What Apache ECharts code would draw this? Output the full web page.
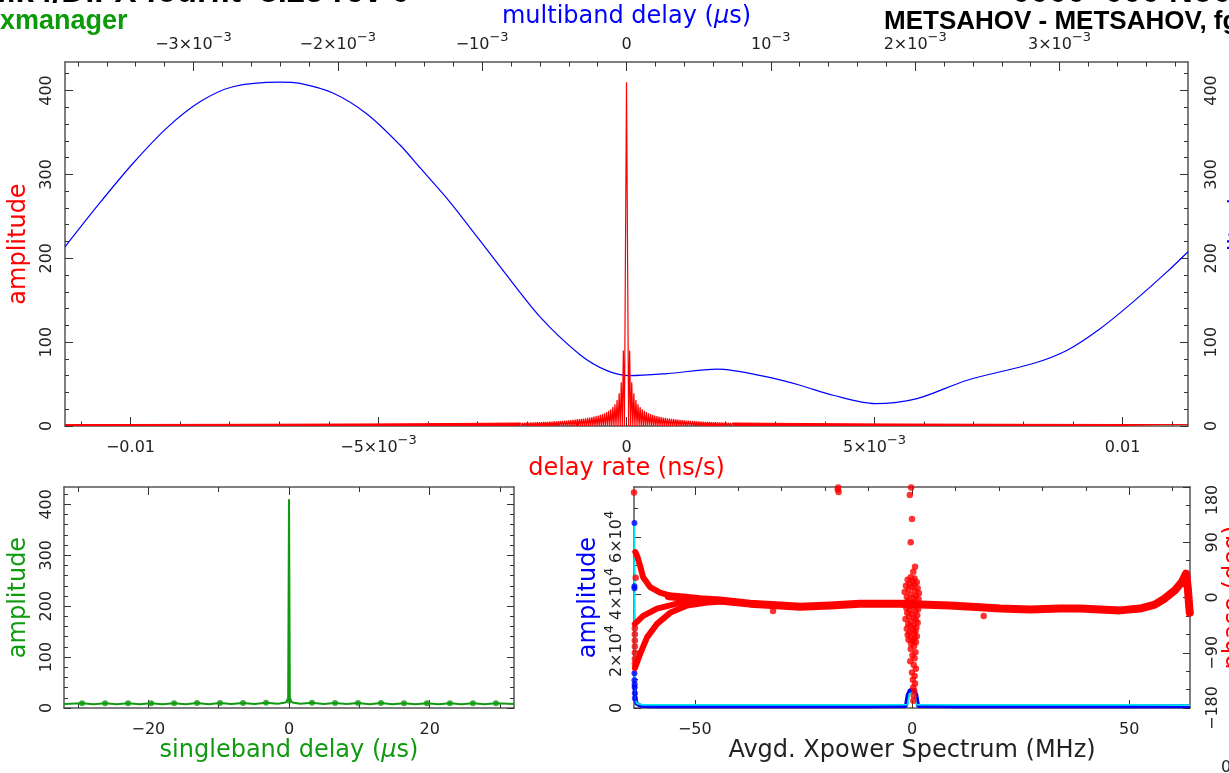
<!DOCTYPE html>
<html><head><meta charset="utf-8">
<script src="https://cdn.jsdelivr.net/npm/echarts@6/dist/echarts.min.js"></script>
<style>html,body{margin:0;padding:0;background:#fff;overflow:hidden}#c{width:1229px;height:773px}</style>
</head><body><div id="c"></div>
<script>
// ===== Top panel: multiband delay function (blue, top axis, µs) =====
const mbdDelay = [-0.00389, -0.003649, -0.00342, -0.003184, -0.002955, -0.002727, -0.002401, -0.002263, -0.002034, -0.001798, -0.001569, -0.001431, -0.001223, -0.000876, -0.000599, -0.000322, -0.000135, 0.000024, 0.000281, 0.000627, 0.000974, 0.001202, 0.001431, 0.001722, 0.002013, 0.00236, 0.002817, 0.003053, 0.003281, 0.00351, 0.003746, 0.00389];
const mbdAmp = [213.7, 266, 313, 355.5, 386.5, 404.5, 410, 408.5, 397, 372, 335, 308, 267, 190, 130, 85, 66, 60, 62.5, 67.7, 58.5, 48.6, 36.7, 26.7, 32.7, 54.6, 74.5, 90.4, 116, 148, 184, 207.8];

// ===== Top panel: delay-rate spectrum (red, bottom axis, ns/s) =====
const ratePeakAmp = 410;
const rateNullSpacing = 4.23e-5;          // spacing of the nulls between sidelobes (ns/s)
const rateLobeAmp = [90, 52, 39, 31, 26, 22.5, 20, 18, 16.5, 15.2, 14.2, 13.3, 12.5, 11.8, 11.2, 10.6, 10.1, 9.6, 9.2, 8.8, 8.4, 8.1, 7.8, 7.5, 7.2, 7.0, 6.7, 6.5, 6.3, 6.1, 5.9, 5.7, 5.5, 5.4, 5.2, 5.1, 5.0, 4.9, 4.8, 4.7, 4.6, 4.5, 4.4, 4.3, 4.2, 4.1, 4.0, 3.9, 3.8, 3.7];
const rateTailRate = [0.00214, 0.003, 0.004, 0.005, 0.006, 0.008, 0.01, 0.01132];
const rateTailAmp = [3.6, 3.2, 2.8, 2.5, 2.3, 2.0, 1.8, 1.7];

// ===== Bottom-left: singleband delay function (green) =====
const sbdDelay = [-32, -29.43, -27.8, -26.16, -24.5, -22.89, -21.25, -19.62, -18, -16.35, -14.7, -13.08, -11.45, -9.81, -8.2, -6.54, -4.9, -3.27, -1.6, -0.5, -0.12, 0, 0.12, 0.5, 1.6, 3.27, 4.9, 6.54, 8.2, 9.81, 11.45, 13.08, 14.7, 16.35, 18, 19.62, 21.25, 22.89, 24.5, 26.16, 27.8, 29.43, 32];
const sbdAmp = [8, 9.5, 7.5, 9.5, 7.5, 9.5, 7.5, 9.5, 7.5, 9.5, 7.5, 9.6, 7.6, 9.8, 7.8, 10, 8, 10.5, 8.5, 11, 16, 410, 16, 11, 8.5, 10.5, 8, 10, 7.8, 9.8, 7.6, 9.6, 7.5, 9.5, 7.5, 9.5, 7.5, 9.5, 7.5, 9.5, 7.5, 9.5, 8];
const sbdDotDelay = [-29.43, -26.16, -22.89, -19.62, -16.35, -13.08, -9.81, -6.54, -3.27, 0, 3.27, 6.54, 9.81, 13.08, 16.35, 19.62, 22.89, 26.16, 29.43];
const sbdDotAmp = [9.5, 9.5, 9.5, 9.5, 9.5, 9.6, 9.8, 10, 10.5, 14, 10.5, 10, 9.8, 9.6, 9.5, 9.5, 9.5, 9.5, 9.5];

// ===== Bottom-right: averaged cross-power spectrum =====
const xpFreqBlue = [-63.9, -63.7, -63.4, -62.5, -60, -50, -40, -30, -20, -10, -1.4, -1.0, -0.5, 0, 0.5, 1.0, 1.4, 10, 20, 30, 40, 50, 60, 64];
const xpAmpBlue  = [8000, 3400, 1500, 800, 600, 600, 600, 600, 600, 600, 700, 4500, 6200, 6400, 6200, 4500, 700, 600, 600, 600, 600, 600, 600, 600];
const xpFreqCyan = [-63.9, -63.75, -63.3, -62, -50, -30, -10, -1.0, -0.6, 0, 0.6, 1.0, 10, 30, 50, 64];
const xpAmpCyan  = [65000, 3000, 1500, 1100, 1100, 1100, 1100, 1200, 5000, 5200, 5000, 1200, 1100, 1100, 1100, 1000];
const xpEdgeDotFreq = [-63.9, -63.9, -63.9, -63.9, -63.9, -63.85, -63.85, -63.8, -63.8];
const xpEdgeDotAmp  = [64900, 42700, 42000, 12200, 9700, 8300, 7300, 5200, 3400];

const phaseBandFreq = [-56, -52.7, -48.8, -44.2, -37.3, -30.4, -25.8, -18.9, -12, -7.4, -2.8, 1.8, 8.7, 15.7, 20.3, 27.2, 34.1, 38.7, 43.3, 47.9, 52.5, 55.9, 58.2, 60.5, 62.2, 63.1, 63.5, 63.8, 63.95];
const phaseBandDeg  = [2, 0, -3, -5, -10, -13, -15, -13, -10, -10, -10, -11.5, -13, -16, -18, -19.6, -18, -18, -19.6, -21, -18, -11.5, -1.6, 11.5, 26, 39, 15, -13, -25];
const phaseUpperFreq = [-63.7, -63.2, -62.6, -61.9, -60.3, -58, -55.7, -52.7, -48.8];
const phaseUpperDeg  = [74, 66, 52, 33, 17, 8, 3, 0, -3];
const phaseLowerAFreq = [-63.8, -61.9, -58.7, -54.1, -48.8, -45];
const phaseLowerADeg  = [-43, -30, -18, -10, -6, -5];
const phaseLowerBFreq = [-63.8, -62.6, -61, -58.7, -55.7, -51.8, -47.2, -43];
const phaseLowerBDeg  = [-115, -92, -65, -43, -25, -13, -8, -6];
// scattered phase points: left-edge column, stray points
const phaseStrayFreq = [-64, -63.6, -63.8, -63.8, -63.8, -63.8, -63.8, -63.8, -63.8, -17, -17.1, -16.9, -32, 16.5];
const phaseStrayDeg  = [171, 32, -50, -60, -70, -80, -90, -100, -108, 179, 176, 172, -22, -30];
// scattered phase points around 0 MHz
const phaseColFreq = [-0.2, -0.5, 0.0, -0.3, 0.7, 0.3,
  -0.3, 0.6, -1.0, 0.2, 1.1, -0.6, 0.5, -1.4, 0.0, 1.3, -0.8, 0.7, -1.7, 1.6, -0.3, 0.9, -1.2, 0.3, 1.5, -0.8, 0.6, -1.9, 1.1, -0.4, 0.2, -1.3, 1.4, -0.6, 0.8, -1.1, 0.0, 1.2, -0.7, 0.5, -1.5, 0.9, -0.2, 1.3, -0.9, 0.4, -0.4, 1.0, -1.2, 0.2, 0.8, -0.6, 0.5, -1.0, 1.1, -0.3, 0.6, -0.8, 0.3, 0.9, -0.2,
  0.5, -0.3, 0.8, 0.1, 0.6, -0.4, 0.4, 0.9, 0.0, 0.6, 0.2, 0.7, 0.3, 0.5, 0.4, 0.3];
const phaseColDeg = [179, 167, 128, 90, 50, 42,
  33, 31, 29, 27, 25, 23, 21, 19, 17, 15, 13, 11, 9, 7, 5, 3, 1, -1, -3, -5, -7, -9, -11, -13, -15, -17, -19, -21, -23, -25, -27, -29, -31, -33, -35, -37, -39, -41, -43, -45, -47, -49, -51, -53, -55, -57, -59, -61, -63, -65, -67, -69, -71, -73, -75,
  -79, -84, -89, -94, -99, -104, -110, -116, -122, -128, -134, -140, -146, -152, -160, -168];

// ===== Axis ticks and tick labels ('^' marks a superscript, '>' a label nudged inside the frame) =====
const rateMajor = [-0.01, -0.005, 0, 0.005, 0.01];
const rateLabels = ['−0.01', '−5×10^−3', '0', '5×10^−3', '0.01'];
const mbdMajor = [-0.003, -0.002, -0.001, 0, 0.001, 0.002, 0.003];
const mbdLabels = ['−3×10^−3', '−2×10^−3', '−10^−3', '0', '10^−3', '2×10^−3', '3×10^−3'];
const ampMajor = [0, 100, 200, 300, 400];
const ampLabels = ['0', '100', '200', '300', '400'];
const sbdMajor = [-20, 0, 20];
const sbdLabels = ['−20', '0', '20'];
const freqMajor = [-50, 0, 50];
const freqLabels = ['−50', '0', '50'];
const xpAmpMajor = [0, 20000, 40000, 60000];
const xpAmpLabels = ['0', '2×10^4', '4×10^4', '6×10^4'];
const phaseMajor = [-180, -90, 0, 90, 180];
const phaseLabels = ['−180', '−90', '0', '90', '>180'];

function steps(a, b, st, skip) {
  const out = [];
  const n = Math.round((b - a) / st);
  for (let i = 0; i <= n; i++) {
    const v = +(a + i * st).toPrecision(10);
    if (!skip.some(s => Math.abs(s - v) < st * 1e-3)) out.push(v);
  }
  return out;
}
const rateMinor = steps(-0.011, 0.011, 0.001, rateMajor);
const mbdMinor = steps(-0.0038, 0.0038, 0.0002, mbdMajor);
const ampMinor = steps(20, 420, 20, ampMajor);
const sbdMinor = [-30, -10, 10, 30];
const freqMinor = steps(-60, 60, 10, freqMajor);
const xpAmpMinor = [10000, 30000, 50000, 70000];
const phaseMinor = steps(-150, 150, 30, phaseMajor);

// ===== Build chart =====
const FONT = 'DejaVu Sans';
const RED = '#ff0000', BLUE = '#0000ff', GREEN = '#109a10', CYAN = '#00e8f0';
const RICH = {
  n: {fontFamily: FONT, fontSize: 16, color: '#222', lineHeight: 22, verticalAlign: 'bottom'},
  p: {fontFamily: FONT, fontSize: 16, color: '#222', lineHeight: 22, verticalAlign: 'bottom', padding: [0, 26, 0, 0]},
  s: {fontFamily: FONT, fontSize: 13, color: '#222', lineHeight: 13, verticalAlign: 'top'}
};
function richLabel(str) {
  if (str.charAt(0) === '>') return '{p|' + str.slice(1) + '}';
  const p = str.split('^');
  return p.length > 1 ? '{n|' + p[0] + '}{s|' + p[1] + '}' : '{n|' + p[0] + '}';
}
function labelFmt(ticks, labels) {
  const span = Math.max.apply(null, ticks.map(Math.abs)) || 1;
  return v => {
    const i = ticks.findIndex(t => Math.abs(t - v) < span * 1e-6);
    return i < 0 ? '' : richLabel(labels[i]);
  };
}
function nameStyle(color, size) {
  return {color: color, fontFamily: FONT, fontSize: size,
    rich: {i: {color: color, fontFamily: FONT, fontSize: size, fontStyle: 'italic'}}};
}
function axis(o) {
  const a = {
    type: 'value', gridIndex: o.g, position: o.pos, min: o.min, max: o.max,
    axisLine: {show: !!o.line, onZero: false, lineStyle: {color: '#555', width: 1.5}},
    axisTick: {show: true, inside: true, length: o.len, customValues: o.ticks, lineStyle: {color: '#333', width: 1}},
    axisLabel: {show: false},
    splitLine: {show: false}, minorTick: {show: false}, minorSplitLine: {show: false},
    axisPointer: {show: false}
  };
  if (o.labels) {
    a.axisLabel = {show: true, customValues: o.ticks, formatter: labelFmt(o.ticks, o.labels),
      margin: o.margin == null ? 8 : o.margin, rotate: o.rotate || 0, rich: RICH, hideOverlap: false};
  }
  if (o.name) {
    a.name = o.name; a.nameLocation = 'middle'; a.nameGap = o.gap;
    if (o.nameRotate != null) a.nameRotate = o.nameRotate;
    a.nameTextStyle = nameStyle(o.nameColor, o.nameSize || 24);
  }
  return a;
}

const RMIN = -0.01132, RMAX = 0.01132, MMIN = -0.00389, MMAX = 0.00389, AMAX = 434;
const xAxis = [
  axis({g: 0, pos: 'bottom', min: RMIN, max: RMAX, line: true, len: 9, ticks: rateMajor, labels: rateLabels, name: 'delay rate (ns/s)', gap: 28, nameColor: RED}),
  axis({g: 0, pos: 'bottom', min: RMIN, max: RMAX, len: 4.5, ticks: rateMinor}),
  axis({g: 0, pos: 'top', min: MMIN, max: MMAX, line: true, len: 9, ticks: mbdMajor, labels: mbdLabels, margin: 9, name: 'multiband delay ({i|µ}s)', gap: 33, nameColor: BLUE}),
  axis({g: 0, pos: 'top', min: MMIN, max: MMAX, len: 4.5, ticks: mbdMinor}),
  axis({g: 1, pos: 'bottom', min: -32, max: 32, line: true, len: 8, ticks: sbdMajor, labels: sbdLabels, name: 'singleband delay ({i|µ}s)', gap: 31, nameColor: GREEN}),
  axis({g: 1, pos: 'bottom', min: -32, max: 32, len: 5, ticks: sbdMinor}),
  axis({g: 1, pos: 'top', min: -32, max: 32, line: true, len: 8, ticks: sbdMajor}),
  axis({g: 1, pos: 'top', min: -32, max: 32, len: 5, ticks: sbdMinor}),
  axis({g: 2, pos: 'bottom', min: -64, max: 64, line: true, len: 8, ticks: freqMajor, labels: freqLabels, name: 'Avgd. Xpower Spectrum (MHz)', gap: 31, nameColor: '#222'}),
  axis({g: 2, pos: 'bottom', min: -64, max: 64, len: 4, ticks: freqMinor}),
  axis({g: 2, pos: 'top', min: -64, max: 64, line: true, len: 8, ticks: freqMajor}),
  axis({g: 2, pos: 'top', min: -64, max: 64, len: 4, ticks: freqMinor})
];
const yAxis = [
  axis({g: 0, pos: 'left', min: 0, max: AMAX, line: true, len: 8, ticks: ampMajor, labels: ampLabels, rotate: 90, margin: 10, name: 'amplitude', gap: 33, nameRotate: 90, nameColor: RED}),
  axis({g: 0, pos: 'left', min: 0, max: AMAX, len: 4, ticks: ampMinor}),
  axis({g: 0, pos: 'right', min: 0, max: AMAX, line: true, len: 8, ticks: ampMajor, labels: ampLabels, rotate: 90, margin: 10, name: 'amplitude', gap: 33, nameRotate: 90, nameColor: BLUE}),
  axis({g: 0, pos: 'right', min: 0, max: AMAX, len: 4, ticks: ampMinor}),
  axis({g: 1, pos: 'left', min: 0, max: AMAX, line: true, len: 7, ticks: ampMajor, labels: ampLabels, rotate: 90, margin: 9, name: 'amplitude', gap: 33, nameRotate: 90, nameColor: GREEN}),
  axis({g: 1, pos: 'left', min: 0, max: AMAX, len: 4, ticks: ampMinor}),
  axis({g: 1, pos: 'right', min: 0, max: AMAX, line: true, len: 7, ticks: ampMajor}),
  axis({g: 1, pos: 'right', min: 0, max: AMAX, len: 4, ticks: ampMinor}),
  axis({g: 2, pos: 'left', min: 0, max: 77500, line: true, len: 7, ticks: xpAmpMajor, labels: xpAmpLabels, rotate: 90, margin: 9, name: 'amplitude', gap: 33, nameRotate: 90, nameColor: BLUE}),
  axis({g: 2, pos: 'left', min: 0, max: 77500, len: 4, ticks: xpAmpMinor}),
  axis({g: 2, pos: 'right', min: -180, max: 180, line: true, len: 7, ticks: phaseMajor, labels: phaseLabels, rotate: 90, margin: 9, name: 'phase (deg)', gap: 31, nameRotate: 90, nameColor: RED}),
  axis({g: 2, pos: 'right', min: -180, max: 180, len: 4, ticks: phaseMinor})
];

const zip = (a, b) => a.map((v, i) => [v, b[i]]);
// delay-rate spectrum: sidelobes separated by nulls, mirrored on both sides of the peak
const rateLobes = [];
for (let k = rateLobeAmp.length; k >= 1; k--) {
  rateLobes.push([-(k + 0.5) * rateNullSpacing, rateLobeAmp[k - 1]]);
  rateLobes.push([-k * rateNullSpacing, 0]);
}
rateLobes.push([0, ratePeakAmp]);
for (let k = 1; k <= rateLobeAmp.length; k++) {
  rateLobes.push([k * rateNullSpacing, 0]);
  rateLobes.push([(k + 0.5) * rateNullSpacing, rateLobeAmp[k - 1]]);
}
const rateTailRight = zip(rateTailRate, rateTailAmp);
const rateTailLeft = rateTailRate.map((r, i) => [-r, rateTailAmp[i]]).reverse();

const line = (xi, yi, data, color, width, extra) => Object.assign({
  type: 'line', xAxisIndex: xi, yAxisIndex: yi, data: data, symbol: 'none',
  lineStyle: {color: color, width: width}, itemStyle: {color: color}, silent: true
}, extra || {});
const dots = (xi, yi, data, color, size, extra) => Object.assign({
  type: 'scatter', xAxisIndex: xi, yAxisIndex: yi, data: data, symbol: 'circle', symbolSize: size,
  itemStyle: {color: color}, silent: true, clip: false
}, extra || {});
const thick = (w) => ({z: 5, lineStyle: {color: RED, width: w, cap: 'round', join: 'round'}});

const series = [
  line(2, 2, zip(mbdDelay, mbdAmp), BLUE, 1.2, {smooth: 0.3, z: 2}),
  line(0, 0, rateTailLeft, RED, 1, {areaStyle: {color: RED, opacity: 1}, z: 3}),
  line(0, 0, rateTailRight, RED, 1, {areaStyle: {color: RED, opacity: 1}, z: 3}),
  line(0, 0, rateLobes, RED, 1.2, {z: 4}),
  line(4, 4, zip(sbdDelay, sbdAmp), GREEN, 2, {z: 3}),
  dots(4, 4, zip(sbdDotDelay, sbdDotAmp), GREEN, 6, {z: 4}),
  line(8, 8, zip(xpFreqBlue, xpAmpBlue), BLUE, 4, {z: 2}),
  line(8, 8, zip(xpFreqCyan, xpAmpCyan), CYAN, 1.8, {z: 3}),
  dots(8, 8, zip(xpEdgeDotFreq, xpEdgeDotAmp), BLUE, 6, {z: 3}),
  line(8, 10, zip(phaseBandFreq, phaseBandDeg), RED, 8, thick(8)),
  line(8, 10, zip(phaseUpperFreq, phaseUpperDeg), RED, 6, thick(6)),
  line(8, 10, zip(phaseLowerAFreq, phaseLowerADeg), RED, 6, thick(6)),
  line(8, 10, zip(phaseLowerBFreq, phaseLowerBDeg), RED, 6, thick(6)),
  dots(8, 10, zip(phaseStrayFreq, phaseStrayDeg), RED, 6.5, {z: 6}),
  dots(8, 10, zip(phaseColFreq, phaseColDeg), RED, 6.5, {z: 6})
];

const HFONT = '"Liberation Sans", Arial, sans-serif';
const gridBase = {containLabel: false, outerBoundsMode: 'none'};
const option = {
  animation: false,
  backgroundColor: '#fff',
  grid: [
    Object.assign({left: 65, top: 62, width: 1123, height: 364}, gridBase),
    Object.assign({left: 64, top: 487, width: 450, height: 221}, gridBase),
    Object.assign({left: 634, top: 487, width: 556, height: 221}, gridBase)
  ],
  xAxis: xAxis,
  yAxis: yAxis,
  series: series,
  graphic: [
    {type: 'text', x: -12, y: -7, silent: true, style: {text: 'Mk4/DiFX fourfit  3.25 rev 0', fontFamily: HFONT, fontWeight: 'bold', fontSize: 33, fill: '#000', verticalAlign: 'middle'}},
    {type: 'text', x: 1012, y: -7, silent: true, style: {text: '0000+000 No0000', fontFamily: HFONT, fontWeight: 'bold', fontSize: 33, fill: '#000', verticalAlign: 'middle'}},
    {type: 'text', x: 0, y: 22, silent: true, style: {text: 'xmanager', fontFamily: HFONT, fontWeight: 'bold', fontSize: 27, fill: '#0a9a0a', verticalAlign: 'middle'}},
    {type: 'text', x: 884, y: 22, silent: true, style: {text: 'METSAHOV - METSAHOV, fgroup X', fontFamily: HFONT, fontWeight: 'bold', fontSize: 26, fill: '#000', verticalAlign: 'middle'}},
    {type: 'text', x: 1221, y: 768, silent: true, style: {text: '0', fontFamily: FONT, fontSize: 16, fill: '#222', verticalAlign: 'middle'}}
  ]
};
const chart = echarts.init(document.getElementById('c'), null, {renderer: 'canvas', width: 1229, height: 773});
chart.setOption(option);
</script>
</body></html>
